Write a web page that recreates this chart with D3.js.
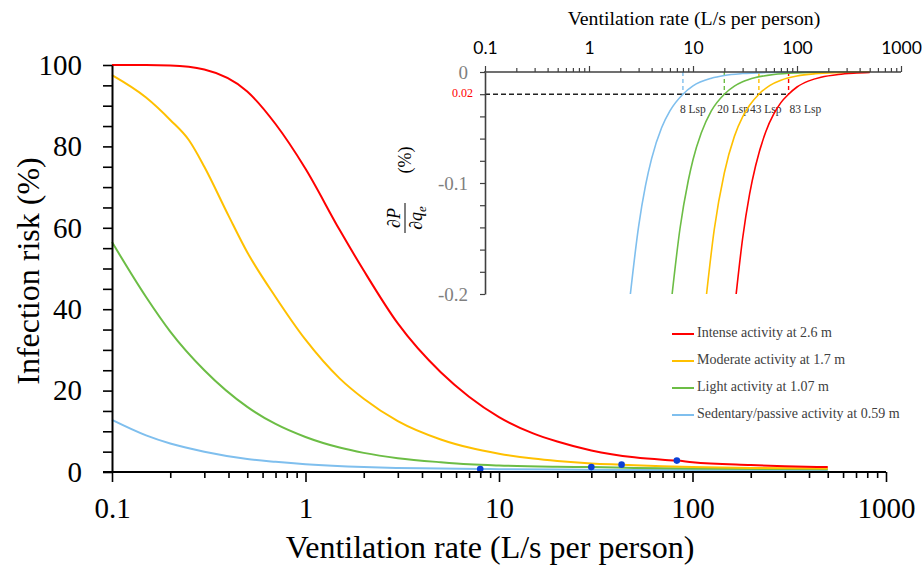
<!DOCTYPE html>
<html>
<head>
<meta charset="utf-8">
<script src="https://cdn.jsdelivr.net/npm/d3@7"></script>
<style>
    body { margin: 0; background: #fff; }
    text { font-family: "Liberation Serif", "Times New Roman", serif; }
</style>
</head>
<body>
<div id="chart"></div>
<script>
// main chart: infection risk (%) vs ventilation rate (L/s per person)
const seriesNames = ["Intense activity at 2.6 m", "Moderate activity at 1.7 m",
    "Light activity at 1.07 m", "Sedentary/passive activity at 0.59 m"];
const seriesColors = ["#ff0000", "#ffc000", "#6cbd45", "#7fbfee"];

const redRate = [0.1, 0.15, 0.2, 0.3, 0.5, 0.7, 1, 1.5, 2, 3, 5, 7, 10, 15, 20, 30, 50, 70, 83, 100, 200, 300, 500];
const redRisk = [100, 100, 99.9, 98.9, 93.5, 85.5, 74.5, 59.5, 49.5, 36.5, 24.5, 18.5, 13.5, 9.5, 7.5, 5.3, 3.6, 3.0, 2.8, 2.4, 1.7, 1.4, 1.2];

const yellowRate = [0.1, 0.15, 0.2, 0.25, 0.3, 0.4, 0.5, 0.7, 1, 1.5, 2, 3, 5, 7, 10, 15, 20, 30, 43, 70, 100, 200, 500];
const yellowRisk = [97.5, 92, 86.5, 81.5, 75, 63, 54, 43, 32.5, 23, 18, 12.5, 8, 6, 4.5, 3.3, 2.7, 2.1, 1.8, 1.4, 1.2, 1.0, 0.85];

const greenRate = [0.1, 0.15, 0.2, 0.3, 0.5, 0.7, 1, 1.5, 2, 3, 5, 7, 10, 20, 30, 50, 100, 500];
const greenRisk = [56.5, 43, 34.5, 25, 16, 11.8, 8.6, 6, 4.7, 3.4, 2.4, 1.9, 1.6, 1.3, 1.2, 1.0, 0.85, 0.7];

const blueRate = [0.1, 0.15, 0.2, 0.3, 0.5, 0.7, 1, 2, 3, 5, 8, 10, 20, 50, 100, 500];
const blueRisk = [12.8, 9, 7, 5, 3.2, 2.5, 1.9, 1.2, 1.0, 0.85, 0.75, 0.7, 0.6, 0.5, 0.5, 0.45];

// marked points on the main curves
const markRate = [8, 30, 43, 83];
const markRisk = [0.74, 1.2, 1.8, 2.8];

// inset: derivative dP/dq (%) vs ventilation rate
const redDRate = [26, 30, 35, 40, 50, 60, 70, 83, 100, 130, 170, 250, 350, 500];
const redDeriv = [-0.2, -0.15, -0.11, -0.0845, -0.054, -0.0376, -0.0276, -0.02, -0.0135, -0.008, -0.0047, -0.0022, -0.0011, -0.0005];

const yellowDRate = [13.5, 16, 20, 25, 30, 35, 43, 55, 70, 100, 150, 250, 500];
const yellowDeriv = [-0.2, -0.142, -0.091, -0.058, -0.0405, -0.03, -0.02, -0.012, -0.0074, -0.0036, -0.0016, -0.0006, -0.0001];

const greenDRate = [6.3, 7.5, 9, 10, 12, 15, 20, 25, 30, 40, 60, 100, 200, 500];
const greenDeriv = [-0.2, -0.141, -0.098, -0.079, -0.055, -0.035, -0.02, -0.0127, -0.0088, -0.005, -0.0022, -0.0008, -0.0002, 0];

const blueDRate = [2.5, 3, 3.5, 4, 5, 6, 8, 10, 15, 20, 30, 50, 100, 200, 500];
const blueDeriv = [-0.2, -0.139, -0.102, -0.078, -0.05, -0.035, -0.02, -0.0125, -0.0056, -0.0031, -0.0014, -0.0005, -0.0001, 0, 0];

const thresholdRates = [8, 20, 43, 83];
const thresholdLabels = ["8 Lsp", "20 Lsp", "43 Lsp", "83 Lsp"];
const thresholdValue = -0.02;

const xTicks = [0.1, 1, 10, 100, 1000];
const yTicks = [0, 20, 40, 60, 80, 100];
const insetYTicks = [0, -0.1, -0.2];

function zip(xs, ys) {
    let out = [];
    for (let i = 0; i < xs.length; i++) {
        out.push({x: xs[i], y: ys[i]});
    }
    return out;
}

function minorLogTicks() {
    let t = [];
    for (let e = -1; e < 3; e++) {
        for (let m = 2; m <= 9; m++) {
            t.push(m * Math.pow(10, e));
        }
    }
    return t;
}

function drawChart() {
    const w = 922;
    const h = 566;

    const svg = d3.select("#chart")
        .append("svg")
        .attr("width", w)
        .attr("height", h);

    // ---------- main plot ----------
    const xScale = d3.scaleLog().domain([0.1, 1000]).range([112, 886]);
    const yScale = d3.scaleLinear().domain([0, 100]).range([472, 65]);

    const mainSeries = [
        zip(redRate, redRisk), zip(yellowRate, yellowRisk),
        zip(greenRate, greenRisk), zip(blueRate, blueRisk)
    ];

    const line = d3.line()
        .x(function (d) { return xScale(d.x); })
        .y(function (d) { return yScale(d.y); })
        .curve(d3.curveMonotoneX);

    // draw blue first so red ends up on top
    for (let i = mainSeries.length - 1; i >= 0; i--) {
        svg.append("path")
            .datum(mainSeries[i])
            .attr("fill", "none")
            .attr("stroke", seriesColors[i])
            .attr("stroke-width", 2)
            .attr("d", line);
    }

    svg.selectAll("circle.mark")
        .data(zip(markRate, markRisk))
        .enter()
        .append("circle")
        .attr("class", "mark")
        .attr("cx", function (d) { return xScale(d.x); })
        .attr("cy", function (d) { return yScale(d.y); })
        .attr("r", 3.3)
        .attr("fill", "#0a3fd6");

    // y axis
    const yAxis = d3.axisLeft(yScale)
        .tickValues(d3.range(0, 101, 5))
        .tickSize(9)
        .tickPadding(21)
        .tickSizeOuter(0)
        .tickFormat(function (d) { return yTicks.includes(d) ? d : ""; });

    const gy = svg.append("g")
        .attr("transform", "translate(" + xScale(0.1) + ",0)")
        .call(yAxis);
    gy.select(".domain").attr("stroke", "#000").attr("stroke-width", 2);
    gy.selectAll(".tick line").attr("stroke", "#000").attr("stroke-width", 1.6);
    gy.selectAll("text")
        .style("font-family", "Liberation Serif")
        .style("font-size", "29px")
        .attr("fill", "#000");

    // x axis minor then major
    const gxMinor = svg.append("g")
        .attr("transform", "translate(0," + yScale(0) + ")")
        .call(d3.axisBottom(xScale).tickValues(minorLogTicks()).tickSize(6).tickFormat(""));
    gxMinor.select(".domain").remove();
    gxMinor.selectAll(".tick line").attr("stroke", "#000").attr("stroke-width", 1.6);

    const gx = svg.append("g")
        .attr("transform", "translate(0," + yScale(0) + ")")
        .call(d3.axisBottom(xScale).tickValues(xTicks).tickSize(10).tickPadding(15)
            .tickFormat(function (d) { return String(d); }));
    gx.select(".domain").remove();
    gx.selectAll(".tick line").attr("stroke", "#000").attr("stroke-width", 1.6);
    gx.selectAll("text")
        .style("font-family", "Liberation Serif")
        .style("font-size", "29px")
        .attr("fill", "#000");

    svg.append("line")
        .attr("x1", xScale(0.1) - 9)
        .attr("x2", xScale(1000))
        .attr("y1", yScale(0))
        .attr("y2", yScale(0))
        .attr("stroke", "#000")
        .attr("stroke-width", 2);

    // axis titles
    svg.append("text")
        .attr("text-anchor", "middle")
        .attr("x", 490)
        .attr("y", 558)
        .style("font-size", "32px")
        .text("Ventilation rate (L/s per person)");

    svg.append("text")
        .attr("text-anchor", "middle")
        .attr("transform", "translate(39,271) rotate(-90)")
        .style("font-size", "32px")
        .text("Infection risk (%)");

    // ---------- legend ----------
    const legend = svg.append("g");
    for (let i = 0; i < seriesNames.length; i++) {
        const ly = 334 + i * 27;
        legend.append("line")
            .attr("x1", 672).attr("x2", 694)
            .attr("y1", ly).attr("y2", ly)
            .attr("stroke", seriesColors[i])
            .attr("stroke-width", 2);
        legend.append("text")
            .attr("x", 697)
            .attr("y", ly)
            .attr("dominant-baseline", "middle")
            .attr("fill", "#404040")
            .style("font-size", "14px")
            .text(seriesNames[i]);
    }

    // ---------- inset ----------
    const xi = d3.scaleLog().domain([0.1, 1000]).range([485, 901]);
    const yi = d3.scaleLinear().domain([-0.2, 0]).range([294, 72]);

    const insetSeries = [
        zip(redDRate, redDeriv), zip(yellowDRate, yellowDeriv),
        zip(greenDRate, greenDeriv), zip(blueDRate, blueDeriv)
    ];

    const insetLine = d3.line()
        .x(function (d) { return xi(d.x); })
        .y(function (d) { return yi(d.y); })
        .curve(d3.curveMonotoneX);

    // threshold guides
    svg.append("line")
        .attr("x1", xi(0.1))
        .attr("x2", xi(thresholdRates[3]))
        .attr("y1", yi(thresholdValue))
        .attr("y2", yi(thresholdValue))
        .attr("stroke", "#222")
        .attr("stroke-width", 1.4)
        .attr("stroke-dasharray", "5,3");

    svg.selectAll("line.guide")
        .data(thresholdRates)
        .enter()
        .append("line")
        .attr("class", "guide")
        .attr("x1", function (d) { return xi(d); })
        .attr("x2", function (d) { return xi(d); })
        .attr("y1", yi(0))
        .attr("y2", yi(thresholdValue))
        .attr("stroke", function (d, i) { return seriesColors[3 - i]; })
        .attr("stroke-width", 1.4)
        .attr("stroke-dasharray", "4,3");

    // label nudges so the tags sit as in the original
    const labelShift = [-3, -7, -9, 1];
    svg.selectAll("text.lsp")
        .data(thresholdRates)
        .enter()
        .append("text")
        .attr("class", "lsp")
        .attr("x", function (d, i) { return xi(d) + labelShift[i]; })
        .attr("y", 113)
        .attr("fill", "#333")
        .style("font-size", "11.5px")
        .text(function (d, i) { return thresholdLabels[i]; });

    for (let i = insetSeries.length - 1; i >= 0; i--) {
        svg.append("path")
            .datum(insetSeries[i])
            .attr("fill", "none")
            .attr("stroke", seriesColors[i])
            .attr("stroke-width", 1.6)
            .attr("d", insetLine);
    }

    // inset top axis
    const giMinor = svg.append("g")
        .attr("transform", "translate(0," + yi(0) + ")")
        .call(d3.axisTop(xi).tickValues(minorLogTicks()).tickSize(4).tickFormat(""));
    giMinor.select(".domain").remove();
    giMinor.selectAll(".tick line").attr("stroke", "#404040").attr("stroke-width", 1.2);

    const gi = svg.append("g")
        .attr("transform", "translate(0," + yi(0) + ")")
        .call(d3.axisTop(xi).tickValues(xTicks).tickSize(6).tickPadding(12)
            .tickFormat(function (d) { return String(d); }));
    gi.select(".domain").remove();
    gi.selectAll(".tick line").attr("stroke", "#404040").attr("stroke-width", 1.2);
    gi.selectAll("text")
        .style("font-family", "Lato")
        .style("font-size", "17.5px")
        .attr("fill", "#000");

    svg.append("line")
        .attr("x1", xi(0.1) - 1)
        .attr("x2", xi(1000))
        .attr("y1", yi(0))
        .attr("y2", yi(0))
        .attr("stroke", "#404040")
        .attr("stroke-width", 1.6);

    // inset left axis
    const giy = svg.append("g")
        .attr("transform", "translate(" + xi(0.1) + ",0)")
        .call(d3.axisLeft(yi)
            .tickValues(d3.range(0, 11).map(function (k) { return -k * 0.02; }))
            .tickSize(5)
            .tickPadding(12)
            .tickSizeOuter(0)
            .tickFormat(function (d) {
                for (let t of insetYTicks) {
                    if (Math.abs(d - t) < 1e-9) return t === 0 ? "0" : String(t);
                }
                return "";
            }));
    giy.select(".domain").attr("stroke", "#404040").attr("stroke-width", 1.6);
    giy.selectAll(".tick line").attr("stroke", "#404040").attr("stroke-width", 1.2);
    giy.selectAll("text")
        .style("font-family", "Liberation Serif")
        .style("font-size", "19px")
        .attr("fill", "#7f7f7f");

    svg.append("text")
        .attr("x", 473)
        .attr("y", yi(thresholdValue))
        .attr("text-anchor", "end")
        .attr("dominant-baseline", "middle")
        .attr("fill", "#ff0000")
        .style("font-size", "12px")
        .text(String(Math.abs(thresholdValue)));

    // inset title
    svg.append("text")
        .attr("text-anchor", "middle")
        .attr("x", 694)
        .attr("y", 25)
        .style("font-size", "19.8px")
        .text("Ventilation rate (L/s per person)");

    // inset y label: dP/dq_e (%), rotated
    const yl = svg.append("g")
        .attr("transform", "translate(405,190) rotate(-90)");
    yl.append("text")
        .attr("x", -28).attr("y", -5)
        .attr("text-anchor", "middle")
        .style("font-style", "italic")
        .style("font-size", "18px")
        .text("∂P");
    yl.append("line")
        .attr("x1", -43).attr("x2", -13)
        .attr("y1", 0).attr("y2", 0)
        .attr("stroke", "#000").attr("stroke-width", 1);
    const den = yl.append("text")
        .attr("x", -28).attr("y", 17)
        .attr("text-anchor", "middle")
        .style("font-style", "italic")
        .style("font-size", "18px");
    den.append("tspan").text("∂q");
    den.append("tspan").attr("dy", 4).style("font-size", "13px").text("e");
    yl.append("text")
        .attr("x", 30).attr("y", 6)
        .attr("text-anchor", "middle")
        .style("font-size", "18px")
        .text("(%)");
}

window.onload = drawChart;
</script>
</body>
</html>
